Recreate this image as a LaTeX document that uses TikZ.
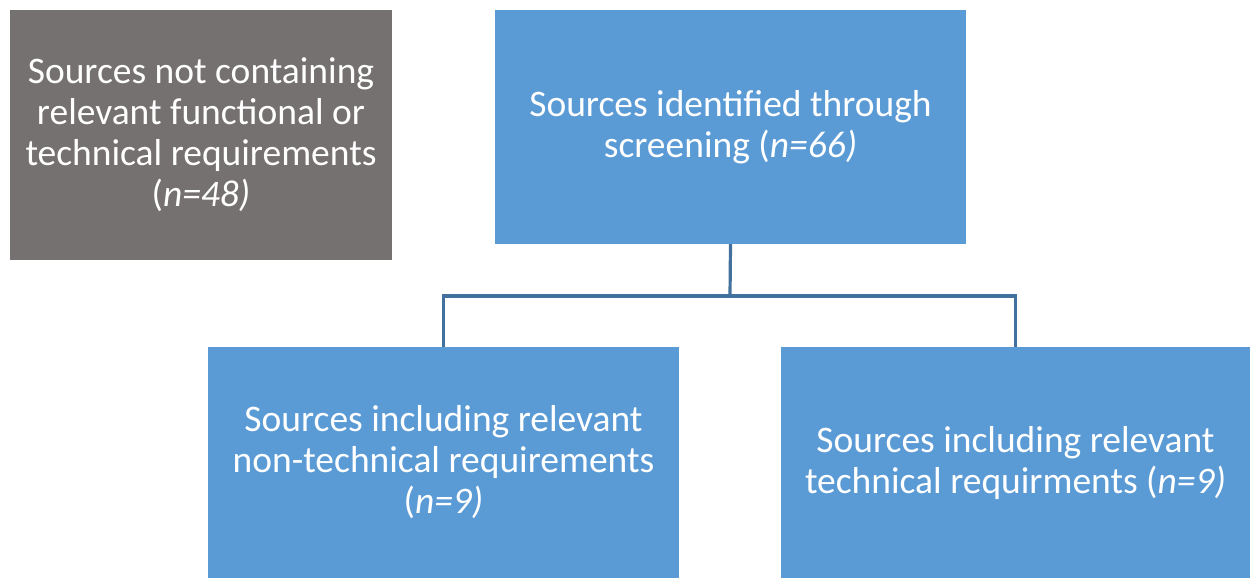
\documentclass[tikz,border=0pt]{standalone}
\usepackage{fontspec}
\setmainfont{Carlito}
\definecolor{boxblue}{HTML}{5B9BD5}
\definecolor{boxgray}{HTML}{767171}
\definecolor{linkblue}{HTML}{41719C}
\begin{document}
\begin{tikzpicture}[x=1pt,y=-1pt,
  card/.style={draw=none, fill=boxblue, text=white, align=center, inner sep=0pt,
    font=\fontsize{37.5}{41}\selectfont},
  link/.style={draw=linkblue, line width=3.2pt}]
\useasboundingbox (0,0) rectangle (1250,578);
\node[card, fill=boxgray, minimum width=382, minimum height=250] (excl) at (201,135)
  {Sources not containing\\relevant functional or\\technical requirements\\(\textit{n=48)}};
\node[card, minimum width=471, minimum height=234] (screen) at (730.5,127)
  {Sources identified through\\screening (\textit{n=66)}};
\node[card, minimum width=471, minimum height=231] (nontech) at (443.5,462.5)
  {Sources including relevant\\non-technical requirements\\(\textit{n=9)}};
\node[card, minimum width=469, minimum height=231] (tech) at (1015.5,462.5)
  {Sources including relevant\\technical requirments (\textit{n=9)}};
\coordinate (split) at (730,296);
\draw[link] (screen.south) -- (split);
\draw[link] (split) -| (nontech.north);
\draw[link] (split) -| (tech.north);
\end{tikzpicture}
\end{document}
